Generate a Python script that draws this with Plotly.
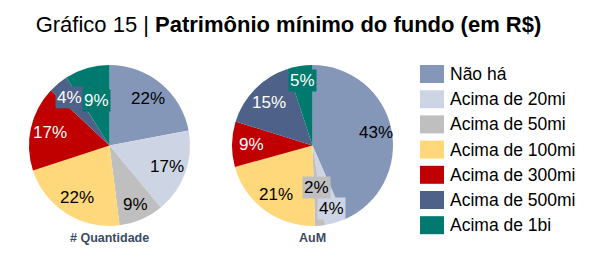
import math
import plotly.graph_objects as go

categories = ["Não há", "Acima de 20mi", "Acima de 50mi", "Acima de 100mi",
              "Acima de 300mi", "Acima de 500mi", "Acima de 1bi"]
quantidade = [22, 17, 9, 22, 17, 4, 9]
aum = [43, 4, 2, 21, 9, 15, 5]
colors = ["#8497B9", "#CDD5E4", "#BFBFBF", "#FFD87B", "#C00000", "#4E6188", "#00796E"]
text_colors = ["black", "black", "black", "black", "white", "white", "white"]
pie_titles = ["# Quantidade", "AuM"]

# label placement (radial fraction); boxed slices get a filled label box
LABEL_R = 0.76
label_radius = [
    {2: 0.80, 5: 0.77, 6: 0.58},
    {0: 0.80, 1: 0.82, 2: 0.52, 6: 0.82},
]
boxed = [{5, 6}, {1, 2, 6}]

W, H = 596, 265
FONT = "Liberation Sans, Arial"


def px_x(v):
    return v / W


def px_y(v):
    return 1 - v / H


# pie boxes in pixels: (left, top, size)
pie_boxes = [(29, 65, 161), (232, 65, 161)]

fig = go.Figure()

for vals, box, radii, bx in zip([quantidade, aum], pie_boxes, label_radius, boxed):
    left, top, size = box
    dom = dict(x=[px_x(left), px_x(left + size)], y=[px_y(top + size), px_y(top)])
    fig.add_trace(go.Pie(
        labels=categories,
        values=vals,
        sort=False,
        direction="clockwise",
        rotation=0,
        marker=dict(colors=colors, line=dict(width=0)),
        textinfo="none",
        domain=dom,
        showlegend=False,
        hoverinfo="label+value",
    ))
    # percentage labels positioned along slice mid-angle
    total = sum(vals)
    cx, cy, r = left + size / 2, top + size / 2, size / 2
    cum = 0
    for i, v in enumerate(vals):
        mid = (cum + v / 2) / total * 2 * math.pi
        cum += v
        f = radii.get(i, LABEL_R)
        x = cx + r * f * math.sin(mid)
        y = cy - r * f * math.cos(mid)
        fig.add_annotation(
            x=px_x(x), y=px_y(y), xref="paper", yref="paper",
            text=f"{v}%", showarrow=False, xanchor="center", yanchor="middle",
            bgcolor=colors[i] if i in bx else "rgba(0,0,0,0)", borderpad=1,
            font=dict(family=FONT, size=17, color=text_colors[i]),
        )

# subtitle labels under pies
for name, box in zip(pie_titles, pie_boxes):
    left, top, size = box
    fig.add_annotation(
        x=px_x(left + size / 2), y=px_y(238),
        xref="paper", yref="paper", text=f"<b>{name}</b>", showarrow=False,
        font=dict(family=FONT, size=12.5, color="#3B4A63"),
        xanchor="center", yanchor="middle",
    )

# manual legend
for i, (cat, col) in enumerate(zip(categories, colors)):
    cy = 74 + 25.2 * i
    fig.add_shape(type="rect", xref="paper", yref="paper",
                  x0=px_x(420), x1=px_x(444), y0=px_y(cy - 9), y1=px_y(cy + 9),
                  fillcolor=col, line=dict(width=0))
    fig.add_annotation(x=px_x(448), y=px_y(cy), xref="paper", yref="paper",
                       text=cat, showarrow=False, xanchor="left", yanchor="middle",
                       font=dict(family=FONT, size=17.5, color="black"))

fig.update_layout(
    width=W, height=H,
    margin=dict(l=0, r=0, t=0, b=0),
    paper_bgcolor="white", plot_bgcolor="white",
    title=dict(text="Gráfico 15 | <b>Patrimônio mínimo do fundo (em R$)</b>",
               x=0.484, xanchor="center", y=px_y(24), yanchor="middle",
               font=dict(family=FONT, size=22, color="black")),
)

fig.write_html("out.html")
